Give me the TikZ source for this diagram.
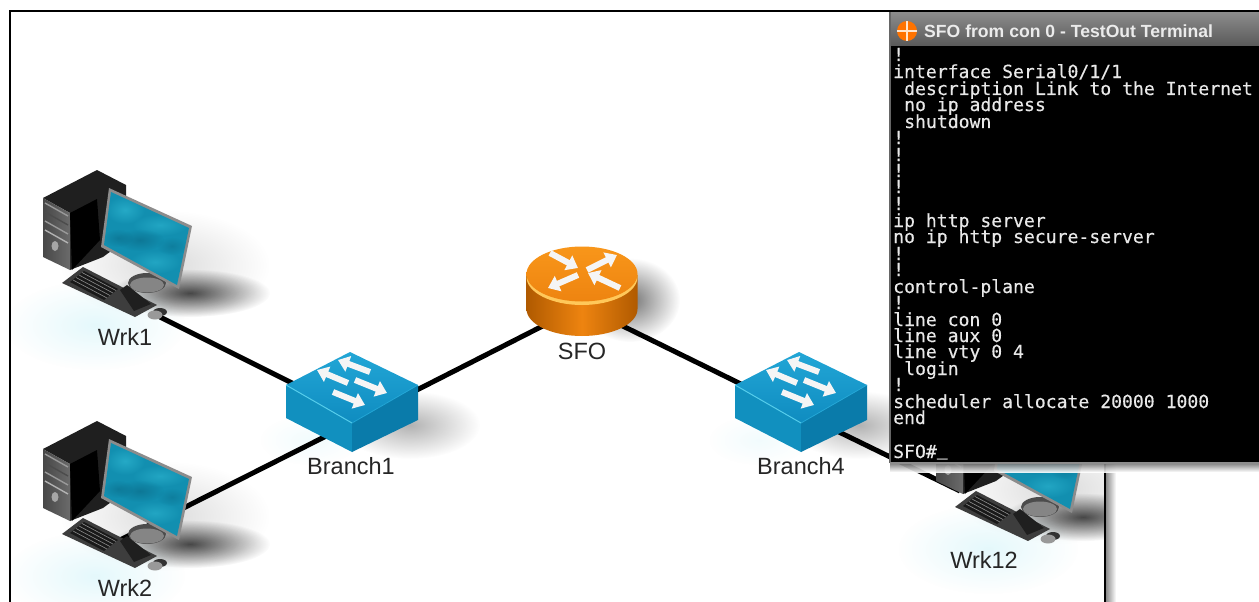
\documentclass[tikz,border=0pt]{standalone}
\usepackage{fontspec}
\setmainfont{Liberation Sans}
\newfontfamily\termfont[FakeBold=0.35]{DejaVu Sans Mono}
\usetikzlibrary{arrows.meta,fadings,shadings}
\tikzfading[name=softfade,inner color=transparent!0,outer color=transparent!100]
\definecolor{swtop}{HTML}{22A6D6}
\definecolor{swtopd}{HTML}{0F8CC0}
\definecolor{swleft}{HTML}{1190BF}
\definecolor{swright}{HTML}{0A7BAA}
\definecolor{swrim}{HTML}{55CDEB}
\definecolor{rtop}{HTML}{F8961A}
\definecolor{rside}{HTML}{EE8410}
\definecolor{rdark}{HTML}{B05A00}
\definecolor{rrim}{HTML}{FFC85A}
\definecolor{scr}{HTML}{128FB0}
\definecolor{scrl}{HTML}{2DB5D0}
\definecolor{scrd}{HTML}{0B6E8C}
\definecolor{glow}{HTML}{BDEFF7}
\definecolor{termtxt}{HTML}{E8E8E8}
\tikzset{
  devlabel/.style={font=\fontsize{23.5}{26}\selectfont,text=black!85,inner sep=0pt},
  link/.style={line width=5pt,black},
  flowarrow/.style={white!96!black,line width=6pt,-{Triangle[length=11pt,width=16pt]}},
  termline/.style={font=\termfont\fontsize{18.1}{18}\selectfont,text=termtxt,inner sep=0pt,anchor=base west},
  computer/.pic={
    % tower
    \fill[black!88] (43,198) -- (97,170) -- (126,185) -- (126,240) -- (103,257) -- (70,270) -- (70,213) -- cycle;
    \shade[left color=black!72,right color=black!58] (43,198) -- (70,213) -- (70,270) -- (43,257) -- cycle;
    \foreach \yy/\cc in {207/black!40,216/black!70,225/black!40,234/black!30}
      \draw[\cc,line width=1.4pt] (45,\yy-4) -- (68,\yy+9);
    \fill[black!35] (55,246) ellipse (3.5 and 5);
    \fill[black] (70,213) -- (97,199) -- (100,240) -- (72,270) -- cycle;
    % stand
    \fill[black!70] (147,283) ellipse (19 and 10);
    \fill[black!48] (147,285) ellipse (17 and 7.5);
    % monitor
    \fill[black!45] (109,188) -- (192,226) -- (179,289) -- (101,247) -- cycle;
    \begin{scope}
      \clip (111,192) -- (189,228) -- (177,285) -- (104,245) -- cycle;
      \fill[scr] (100,185) rectangle (195,292);
      \fill[scrl,opacity=.7,path fading=softfade] (125,210) ellipse (20 and 14);
      \fill[scrl,opacity=.6,path fading=softfade] (160,225) ellipse (28 and 11);
      \fill[scrd,opacity=.7,path fading=softfade] (140,240) ellipse (24 and 11);
      \fill[scrl,opacity=.6,path fading=softfade] (155,262) ellipse (26 and 12);
      \fill[scrd,opacity=.6,path fading=softfade] (118,238) ellipse (15 and 9);
      \fill[scrd,opacity=.5,path fading=softfade] (172,246) ellipse (15 and 9);
    \end{scope}
    % keyboard
    \fill[black!76] (62,283) -- (83,267) -- (157,305) -- (135,317) -- cycle;
    \fill[black!90] (70,282) -- (84,271) -- (118,289) -- (104,300) -- cycle;
    \fill[black!88] (120,290) -- (127,285) -- (151,304) -- (134,311) -- cycle;
    \foreach \kk in {0,1,2,3}
      \draw[black!45,line width=.6pt] (73+3*\kk,280-2.5*\kk) -- (107+3*\kk,298-2.5*\kk);
    % mouse
    \fill[black!80] (160,312) ellipse (7 and 4);
    \fill[black!40] (155,315) ellipse (7.5 and 4.5);
  },
  computershadow/.pic={
    \fill[black,opacity=.7,path fading=softfade] (190,293) ellipse (80 and 24);
    \fill[black,opacity=.14,path fading=softfade] (165,265) ellipse (105 and 55);
    \fill[glow,opacity=.4,path fading=softfade] (95,325) ellipse (90 and 45);
  },
  switchshadow/.pic={
    \fill[black,opacity=.3,path fading=softfade] (410,425) ellipse (70 and 34);
    \fill[glow,opacity=.2,path fading=softfade] (310,440) ellipse (50 and 25);
  },
  switchicon/.pic={
    \fill[swleft] (286,385) -- (352,423) -- (352,452) -- (286,418) -- cycle;
    \fill[swright] (352,423) -- (418,385) -- (418,420) -- (352,452) -- cycle;
    \shade[top color=swtop,bottom color=swtopd] (350,352) -- (418,385) -- (352,423) -- (286,385) -- cycle;
    \draw[swrim,line width=1pt] (286,385) -- (352,423);
    \draw[swtop,line width=.8pt] (352,423) -- (418,385);
    \draw[flowarrow] (370,372) -- (338,360);
    \draw[flowarrow] (348,383) -- (317,370);
    \draw[flowarrow] (355,380) -- (387,393);
    \draw[flowarrow] (333,392) -- (365,405);
  }
}
\begin{document}
\begin{tikzpicture}[x=1pt,y=-1pt]
\useasboundingbox (0,0) rectangle (1259,602);
\fill[white] (0,0) rectangle (1259,602);
% soft shadows under the devices
\pic at (0,0) {computershadow};
\pic at (0,251) {computershadow};
\pic at (893,224) {computershadow};
\pic at (0,0) {switchshadow};
\pic at (449,0) {switchshadow};
\fill[black,opacity=.55,path fading=softfade] (630,300) ellipse (50 and 42);
% anchors of the devices
\coordinate (wrk1) at (160,317);
\coordinate (wrk2) at (120,540);
\coordinate (wrk12) at (960,491);
\coordinate (branch1) at (352,423);
\coordinate (branch1w) at (352,413);
\coordinate (sfo) at (582,306);
\coordinate (branch4) at (800,413);
% connectors
\draw[link] (wrk1) -- (branch1w);
\draw[link] (wrk2) -- (branch1);
\draw[link] (branch1) -- (sfo);
\draw[link] (sfo) -- (branch4);
\draw[link] (branch4) -- (wrk12);
% devices
\pic at (0,0) {computer};
\pic at (0,251) {computer};
\pic at (893,224) {computer};
\pic at (0,0) {switchicon};
\pic at (449,0) {switchicon};
% router
\shade[left color=rdark,right color=rdark,middle color=rside]
  (526.5,275) -- (526.5,309) arc[start angle=180,end angle=0,x radius=55.5,y radius=27] -- (637.5,275) -- cycle;
\fill[rrim] (582,277) ellipse (55.5 and 28);
\shade[top color=rtop,bottom color=rside] (582,274) ellipse (55.5 and 27.5);
\draw[flowarrow] (550,253) -- (578,268);
\draw[flowarrow] (587,270) -- (617,255);
\draw[flowarrow] (578,275) -- (548,288);
\draw[flowarrow] (620,288) -- (588,273);
% labels
\node[devlabel] (lwrk1) at (125,337) {Wrk1};
\node[devlabel] (lwrk2) at (125,588) {Wrk2};
\node[devlabel] (lbranch1) at (351,466) {Branch1};
\node[devlabel] (lsfo) at (582,351) {SFO};
\node[devlabel] (lbranch4) at (801,466) {Branch4};
\node[devlabel] (lwrk12) at (984,560) {Wrk12};
% workspace frame
\shade[left color=black!45,right color=white] (1106,462) rectangle (1116,602);
\fill[white] (1116,462) rectangle (1259,602);
\draw[black,line width=2pt] (10,602) -- (10,11) -- (890,11);
\draw[black,line width=2pt] (1105,462) -- (1105,602);
% terminal window
\shade[top color=black!55,bottom color=white,opacity=.9] (890,463) rectangle (1259,472);
\fill[black] (890,46) rectangle (1259,463);
\shade[top color=black!45,bottom color=black!65] (890,12) rectangle (1259,46);
\draw[black!60,line width=2pt] (890,463) -- (890,12);
\draw[black,line width=1.5pt] (890,11) -- (1259,11);
\draw[black!45,line width=1.5pt] (890,463) -- (1259,463);
% title bar
\fill[orange!90!red] (907,31) circle (10);
\draw[white!80!orange,line width=2.5pt] (897,31) -- (917,31) (907,21) -- (907,41);
\node[font=\bfseries\fontsize{17.6}{19}\selectfont,text=white!92!black,anchor=west,inner sep=0pt] (title) at (924,31) {SFO from con 0 - TestOut Terminal};
% terminal text
\foreach \i/\xx/\yy/\txt in {
 a/893/61/{!},
 b/893/78/{interface Serial0/1/1},
 c/904/95/{description Link to the Internet},
 d/904/111/{no ip address},
 e/904/128/{shutdown},
 f/893/144/{!},
 g/893/161/{!},
 h/893/177/{!},
 j/893/193/{!},
 k/893/210/{!},
 l/893/227/{ip http server},
 m/893/243/{no ip http secure-server},
 n/893/260/{!},
 o/893/276/{!},
 p/893/293/{control-plane},
 q/893/309/{!},
 r/893/326/{line con 0},
 s/893/342/{line aux 0},
 t/893/358/{line vty 0 4},
 u/904/375/{login},
 v/893/391/{!},
 w/893/408/{scheduler allocate 20000 1000},
 x/893/424/{end},
 y/893/458/{SFO\#\raisebox{3pt}{\_}}
}{
 \node[termline] (term\i) at (\xx,\yy) {\txt};
}
\end{tikzpicture}
\end{document}
